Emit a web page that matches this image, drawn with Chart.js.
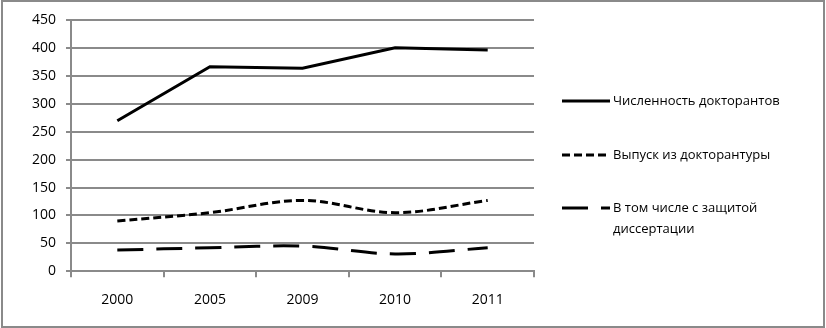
<!DOCTYPE html>
<html>
<head>
<meta charset="utf-8">
<script src="https://cdn.jsdelivr.net/npm/chart.js@4"></script>
<style>
  body { margin: 0; background: #fff; }
  #wrap { position: absolute; left: 1px; top: 0px; width: 820px; height: 324px; border: 2px solid #8a8a8a; }
  canvas { position: absolute; left: 0; top: 0; }
</style>
</head>
<body>
<div id="wrap"><canvas id="c" width="820" height="324"></canvas></div>
<script>
var years = ['2000', '2005', '2009', '2010', '2011'];
var doktoranty = [270, 367, 364, 401, 397];
var vypusk = [90, 105, 127, 105, 127];
var zashita = [38, 42, 45, 31, 42];
var yTicks = [0, 50, 100, 150, 200, 250, 300, 350, 400, 450];

var FONT = '"Open Sans", "DejaVu Sans", sans-serif';

// legend drawn on the right, text may wrap
var sideLegend = {
  id: 'sideLegend',
  afterDraw: function(chart) {
    var ctx = chart.ctx;
    var rows = [
      { y: 99, lines: ['Численность докторантов'] },
      { y: 153, lines: ['Выпуск из докторантуры'] },
      { y: 206, lines: ['В том числе с защитой', 'диссертации'] }
    ];
    ctx.save();
    chart.data.datasets.forEach(function(ds, i) {
      var r = rows[i];
      ctx.beginPath();
      ctx.strokeStyle = ds.borderColor;
      ctx.lineWidth = ds.borderWidth;
      ctx.setLineDash(ds.borderDash || []);
      ctx.moveTo(559, r.y);
      ctx.lineTo(607, r.y);
      ctx.stroke();
      ctx.setLineDash([]);
      ctx.fillStyle = '#000';
      ctx.font = '13px ' + FONT;
      ctx.textBaseline = 'middle';
      r.lines.forEach(function(t, k) {
        ctx.fillText(t, 610, r.y + k * 21);
      });
    });
    ctx.restore();
  }
};

new Chart(document.getElementById('c'), {
  type: 'line',
  data: {
    labels: years,
    datasets: [
      { label: 'Численность докторантов', data: doktoranty, borderColor: '#000', borderWidth: 3, pointRadius: 0, tension: 0 },
      { label: 'Выпуск из докторантуры', data: vypusk, borderColor: '#000', borderWidth: 3, borderDash: [8, 4], pointRadius: 0, tension: 0.35 },
      { label: 'В том числе с защитой диссертации', data: zashita, borderColor: '#000', borderWidth: 3, borderDash: [26, 13], pointRadius: 0, tension: 0.35 }
    ]
  },
  options: {
    responsive: false,
    animation: false,
    layout: { padding: { left: 19, top: 17, right: 289, bottom: 4 } },
    plugins: { legend: { display: false }, tooltip: { enabled: false } },
    scales: {
      x: {
        offset: true,
        grid: { display: true, drawOnChartArea: false, drawTicks: true, tickLength: 6, offset: true, color: '#8a8a8a', lineWidth: 2 },
        border: { color: '#8a8a8a', width: 2 },
        ticks: { color: '#000', font: { family: FONT, size: 14 }, padding: 14 }
      },
      y: {
        min: 0,
        max: 450,
        afterBuildTicks: function(axis) { axis.ticks = yTicks.map(function(v) { return { value: v }; }); },
        grid: { color: '#8a8a8a', lineWidth: 2, tickLength: 5 },
        border: { color: '#8a8a8a', width: 2 },
        ticks: { color: '#000', font: { family: FONT, size: 14 }, padding: 10 }
      }
    }
  },
  plugins: [sideLegend]
});
</script>
</body>
</html>
